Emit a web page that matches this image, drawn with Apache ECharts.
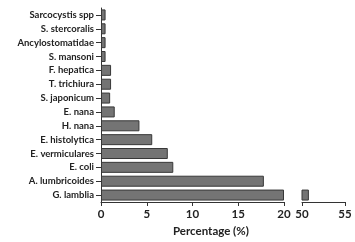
<!DOCTYPE html>
<html>
<head>
<meta charset="utf-8">
<script src="https://cdn.jsdelivr.net/npm/echarts@6/dist/echarts.min.js"></script>
<style>
  html, body { margin: 0; padding: 0; background: #fff; }
  #chart { width: 355px; height: 242px; }
</style>
</head>
<body>
<div id="chart"></div>
<script>
// categories, top to bottom
var categories = [
  "Sarcocystis spp", "S. stercoralis", "Ancylostomatidae", "S. mansoni",
  "F. hepatica", "T. trichiura", "S. japonicum", "E. nana", "H. nana",
  "E. histolytica", "E. vermiculares", "E. coli", "A. lumbricoides", "G. lamblia"
];
// percentage values
var percentages = [0.5, 0.5, 0.5, 0.5, 1.1, 1.1, 1.0, 1.5, 4.2, 5.6, 7.3, 7.9, 17.8, 50.8];
var lowTicks = { min: 0, max: 20, interval: 5 };
var highTicks = { min: 50, max: 55, interval: 5 };

var font = "Lato, 'Open Sans', sans-serif";
var axisLine = { show: true, lineStyle: { color: "#333", width: 1 } };
var axisTick = { show: true, length: 4, lineStyle: { color: "#333" } };

var barStyle = { color: "#747474", borderColor: "#383838", borderWidth: 1 };

var chart = echarts.init(document.getElementById("chart"));
chart.setOption({
  animation: false,
  grid: [
    { left: 101, top: 8, width: 183, height: 194 },
    { left: 302, top: 8, width: 43, height: 194 }
  ],
  xAxis: [
    {
      gridIndex: 0, type: "value", min: lowTicks.min, max: lowTicks.max, interval: lowTicks.interval,
      axisLine: axisLine, axisTick: axisTick, splitLine: { show: false },
      axisLabel: { color: "#222", fontSize: 11.5, fontWeight: "bold", fontFamily: font, margin: 6 }
    },
    {
      gridIndex: 1, type: "value", min: highTicks.min, max: highTicks.max, interval: highTicks.interval,
      axisLine: axisLine, axisTick: axisTick, splitLine: { show: false },
      axisLabel: { color: "#222", fontSize: 11.5, fontWeight: "bold", fontFamily: font, margin: 6 }
    }
  ],
  yAxis: [
    {
      gridIndex: 0, type: "category", data: categories, inverse: true,
      axisLine: axisLine,
      axisTick: { show: true, length: 5, alignWithLabel: true, lineStyle: { color: "#333" } },
      axisLabel: { color: "#222", fontSize: 9.5, fontWeight: "bold", fontFamily: font, margin: 7 }
    },
    {
      gridIndex: 1, type: "category", data: categories, inverse: true,
      axisLine: { show: false }, axisTick: { show: false }, axisLabel: { show: false }
    }
  ],
  graphic: [
    {
      type: "text", left: 173, top: 225,
      style: { text: "Percentage (%)", fill: "#222", fontSize: 11.5, fontWeight: "bold", fontFamily: font }
    }
  ],
  series: [
    {
      type: "bar", xAxisIndex: 0, yAxisIndex: 0, barWidth: 11,
      data: percentages.map(function (v) { return Math.min(v, lowTicks.max); }),
      itemStyle: barStyle
    },
    {
      type: "bar", xAxisIndex: 1, yAxisIndex: 1, barWidth: 11,
      data: percentages.map(function (v) { return v > highTicks.min ? v : "-"; }),
      itemStyle: barStyle
    }
  ]
});
</script>
</body>
</html>
